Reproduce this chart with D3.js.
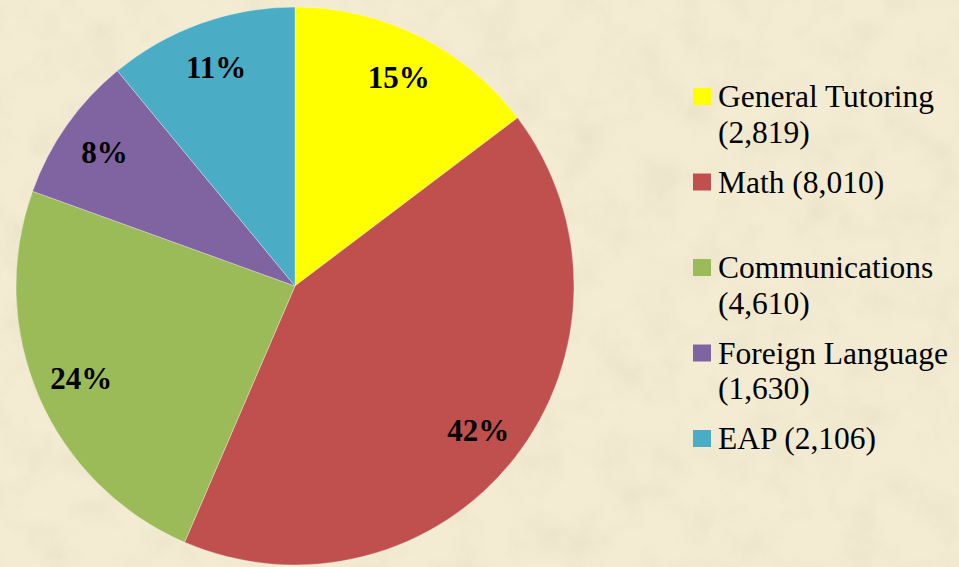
<!DOCTYPE html>
<html>
<head>
<meta charset="utf-8">
<script src="https://cdn.jsdelivr.net/npm/d3@7"></script>
<style>
  html, body { margin: 0; padding: 0; background: #f2ebd0; }
  svg { display: block; }
  svg text { font-family: "Liberation Serif", "Times New Roman", serif; }
</style>
</head>
<body>
<div id="chart"></div>
<script>
const categories = ["General Tutoring", "Math", "Communications", "Foreign Language", "EAP"];
const counts     = [2819, 8010, 4610, 1630, 2106];
const pctLabels  = ["15%", "42%", "24%", "8%", "11%"];
const colors     = ["#ffff00", "#c0504d", "#9bbb59", "#8064a2", "#4bacc6"];

const width = 959, height = 567;
const cx = 295, cy = 286, radius = 279;

const svg = d3.select("#chart").append("svg")
  .attr("width", width)
  .attr("height", height);

// parchment background with a faint mottled texture
const defs = svg.append("defs");
const f = defs.append("filter").attr("id", "paper")
  .attr("x", 0).attr("y", 0).attr("width", "100%").attr("height", "100%");
f.append("feTurbulence")
  .attr("type", "fractalNoise")
  .attr("baseFrequency", 0.025)
  .attr("numOctaves", 4)
  .attr("seed", 3);
f.append("feColorMatrix")
  .attr("type", "matrix")
  .attr("values", "0 0 0 0 0.55  0 0 0 0 0.47  0 0 0 0 0.30  0 0 0 -0.9 0.55");

svg.append("rect")
  .attr("width", width).attr("height", height)
  .attr("fill", "#f3ecd3");
svg.append("rect")
  .attr("width", width).attr("height", height)
  .attr("filter", "url(#paper)")
  .attr("opacity", 0.3);

const pie = d3.pie().sort(null).value(d => d.value);
const arcs = pie(categories.map((c, i) => ({ name: c, value: counts[i], i })));

const arc = d3.arc().innerRadius(0).outerRadius(radius);
const labelArc = d3.arc().innerRadius(radius * 0.835).outerRadius(radius * 0.835);

const g = svg.append("g").attr("transform", `translate(${cx},${cy})`);

g.selectAll("path.slice")
  .data(arcs)
  .join("path")
    .attr("class", "slice")
    .attr("d", arc)
    .attr("fill", d => colors[d.data.i])
    .attr("stroke", "rgba(255,255,255,0.45)")
    .attr("stroke-width", 0.7);

g.selectAll("text.pct")
  .data(arcs)
  .join("text")
    .attr("class", "pct")
    .attr("transform", d => `translate(${labelArc.centroid(d)})`)
    .attr("text-anchor", "middle")
    .attr("dy", "0.35em")
    .style("font-weight", "bold")
    .style("font-size", "31px")
    .attr("fill", "#000")
    .text(d => pctLabels[d.data.i]);

// legend
const legendX = 693, textX = 718, firstBase = 107, itemStep = 85.5, lineH = 35.5, maxW = 240;
const fmt = d3.format(",");

const legend = svg.append("g").attr("class", "legend");
categories.forEach((c, i) => {
  const base = firstBase + i * itemStep;
  legend.append("rect")
    .attr("x", legendX)
    .attr("y", base - 19)
    .attr("width", 18)
    .attr("height", 17)
    .attr("fill", colors[i]);

  const t = legend.append("text")
    .attr("x", textX)
    .attr("y", base)
    .style("font-size", "31.5px")
    .attr("fill", "#000");

  // simple word wrap
  const words = `${c} (${fmt(counts[i])})`.split(" ");
  let line = [], lineNo = 0;
  let ts = t.append("tspan").attr("x", textX).attr("y", base);
  words.forEach(w => {
    line.push(w);
    ts.text(line.join(" "));
    if (ts.node().getComputedTextLength() > maxW && line.length > 1) {
      line.pop();
      ts.text(line.join(" "));
      line = [w];
      lineNo++;
      ts = t.append("tspan").attr("x", textX).attr("y", base + lineNo * lineH).text(w);
    }
  });
});
</script>
</body>
</html>
